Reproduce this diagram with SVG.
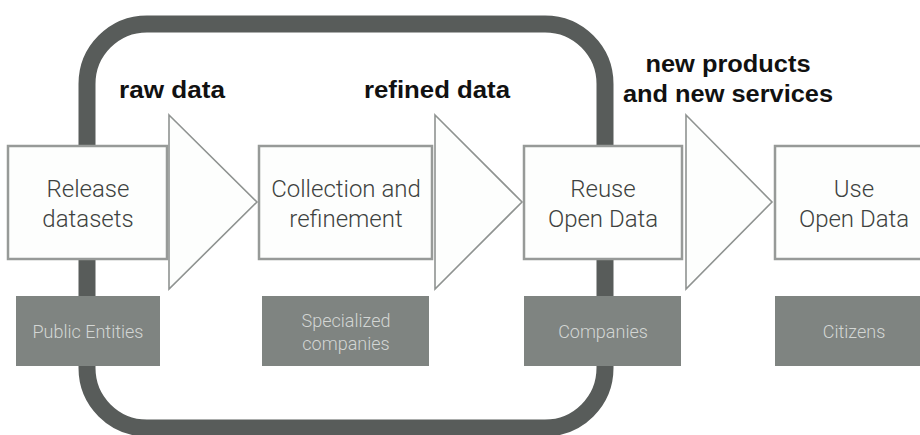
<svg xmlns="http://www.w3.org/2000/svg" width="920" height="435" viewBox="0 0 920 435">
<style>
.loop{fill:none;stroke:#585c5a;stroke-width:17}
.wbox{fill:#fdfefd;stroke:#979a98;stroke-width:2.5}
.gbox{fill:#7f8481}
.tri{fill:#fdfefd;stroke:#8f9391;stroke-width:1.6;stroke-linejoin:miter}
.lt{font-family:Roboto,"Liberation Sans",sans-serif;font-weight:300;font-size:24px;fill:#3e4240;text-anchor:middle}
.gt{font-family:Roboto,"Liberation Sans",sans-serif;font-weight:300;font-size:18px;fill:#d3d6d4;text-anchor:middle}
.bt{font-family:"Liberation Sans",Arial,sans-serif;font-weight:bold;font-size:23px;fill:#111;text-anchor:middle}
</style>
<rect width="920" height="435" fill="#ffffff"/>
<g id="connectors">
<rect class="loop" x="87" y="24" width="518" height="404" rx="60" ry="60"/>
<polygon class="tri" points="169,115 257,202 169,289"/>
<polygon class="tri" points="435,115 522,202 435,289"/>
<polygon class="tri" points="686,115 772,202 686,289"/>
<text class="bt" x="172" y="98" textLength="106" lengthAdjust="spacingAndGlyphs">raw data</text>
<text class="bt" x="437" y="98" textLength="146" lengthAdjust="spacingAndGlyphs">refined data</text>
<text class="bt" x="728" y="72" textLength="165" lengthAdjust="spacingAndGlyphs">new products</text>
<text class="bt" x="728" y="102" textLength="210" lengthAdjust="spacingAndGlyphs">and new services</text>
</g>
<g id="release">
<rect class="wbox" x="8" y="146" width="159" height="113"/>
<text class="lt" x="88" y="197">Release</text>
<text class="lt" x="88" y="227">datasets</text>
</g>
<g id="collection">
<rect class="wbox" x="259" y="146" width="173" height="113"/>
<text class="lt" x="346" y="197">Collection and</text>
<text class="lt" x="346" y="227">refinement</text>
</g>
<g id="reuse">
<rect class="wbox" x="524" y="146" width="158" height="113"/>
<text class="lt" x="603" y="197">Reuse</text>
<text class="lt" x="603" y="227">Open Data</text>
</g>
<g id="use">
<rect class="wbox" x="775" y="146" width="158" height="113"/>
<text class="lt" x="854" y="197">Use</text>
<text class="lt" x="854" y="227">Open Data</text>
</g>
<g id="public">
<rect class="gbox" x="16" y="296" width="144" height="70"/>
<text class="gt" x="88" y="338">Public Entities</text>
</g>
<g id="specialized">
<rect class="gbox" x="262" y="296" width="167" height="70"/>
<text class="gt" x="346" y="327">Specialized</text>
<text class="gt" x="346" y="350">companies</text>
</g>
<g id="companies">
<rect class="gbox" x="524" y="296" width="157" height="70"/>
<text class="gt" x="603" y="338">Companies</text>
</g>
<g id="citizens">
<rect class="gbox" x="775" y="296" width="158" height="70"/>
<text class="gt" x="854" y="338">Citizens</text>
</g>
</svg>
